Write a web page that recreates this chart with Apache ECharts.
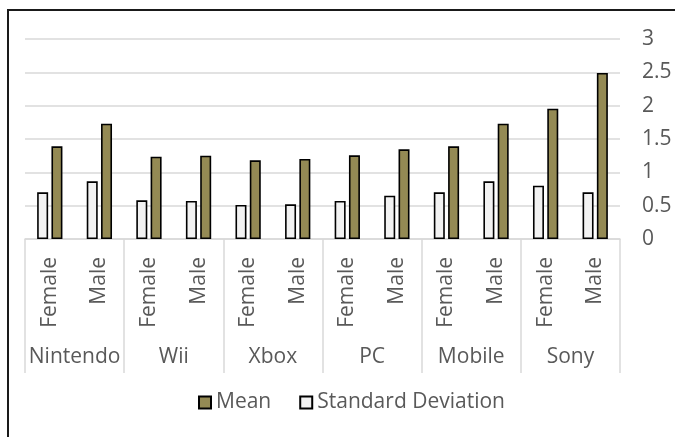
<!DOCTYPE html>
<html>
<head>
<meta charset="utf-8">
<script src="https://cdn.jsdelivr.net/npm/echarts@6/dist/echarts.min.js"></script>
<style>
  html, body { margin: 0; padding: 0; background: #fff; }
  #wrap { position: relative; width: 675px; height: 437px; }
  #frame { position: absolute; left: 7px; top: 9px; right: 0; bottom: 0;
           border-left: 2px solid #1a1a1a; border-top: 2px solid #1a1a1a; }
  #chart { position: absolute; left: 0; top: 0; width: 675px; height: 437px; }
</style>
</head>
<body>
<div id="wrap">
  <div id="frame"></div>
  <div id="chart"></div>
</div>
<script>
// 数据
var brands = ['Nintendo', 'Wii', 'Xbox', 'PC', 'Mobile', 'Sony'];
var genders = ['Female', 'Male', 'Female', 'Male', 'Female', 'Male',
               'Female', 'Male', 'Female', 'Male', 'Female', 'Male'];
var sdValues = [0.70, 0.865, 0.58, 0.57, 0.51, 0.52, 0.57, 0.65, 0.70, 0.865, 0.80, 0.70];
var meanValues = [1.39, 1.73, 1.235, 1.25, 1.18, 1.20, 1.255, 1.345, 1.39, 1.73, 1.955, 2.49];
var yTicks = [0, 0.5, 1, 1.5, 2, 2.5, 3];

var textColor = '#595959';
var gridColor = '#d9d9d9';
var fontName = 'Open Sans';
var fontSize = 21;

var chart = echarts.init(document.getElementById('chart'), null, { renderer: 'canvas' });

var option = {
    animation: false,
    textStyle: { fontFamily: fontName },
    grid: { left: 25, right: 55, top: 39, bottom: 198 },
    legend: {
        data: ['Mean', 'Standard Deviation'],
        left: 193,
        top: 387,
        icon: 'rect',
        itemWidth: 12,
        itemHeight: 12,
        itemGap: 28,
        textStyle: { fontSize: fontSize, color: textColor, fontFamily: fontName }
    },
    xAxis: [
        {
            type: 'category',
            data: genders,
            position: 'bottom',
            axisLine: { lineStyle: { color: gridColor, width: 1.5 } },
            axisTick: { show: false },
            axisLabel: {
                interval: 0, rotate: 90, margin: 18,
                fontSize: fontSize, color: textColor, fontFamily: fontName
            }
        },
        {
            type: 'category',
            data: brands,
            position: 'bottom',
            axisLine: { show: false },
            axisTick: { show: true, interval: 0, length: 134,
                        lineStyle: { color: gridColor, width: 1.5 } },
            axisLabel: {
                interval: 0, margin: 108,
                fontSize: fontSize, color: textColor, fontFamily: fontName
            }
        }
    ],
    yAxis: {
        type: 'value',
        position: 'right',
        min: 0, max: 3, interval: 0.5,
        axisLine: { show: false },
        axisTick: { show: false },
        splitLine: { lineStyle: { color: gridColor, width: 1.5 } },
        axisLabel: {
            margin: 22, fontSize: fontSize, color: textColor, fontFamily: fontName,
            formatter: function (v) { return yTicks.indexOf(v) >= 0 ? String(v) : ''; }
        }
    },
    series: [
        {
            name: 'Standard Deviation',
            type: 'bar',
            xAxisIndex: 0,
            data: sdValues,
            barWidth: 11,
            barGap: '30%',
            itemStyle: { color: '#f2f2f2', borderColor: '#000', borderWidth: 1.6 }
        },
        {
            name: 'Mean',
            type: 'bar',
            xAxisIndex: 0,
            data: meanValues,
            barWidth: 11,
            barGap: '30%',
            itemStyle: { color: '#948a54', borderColor: '#000', borderWidth: 1.6 }
        }
    ]
};

chart.setOption(option);
</script>
</body>
</html>
